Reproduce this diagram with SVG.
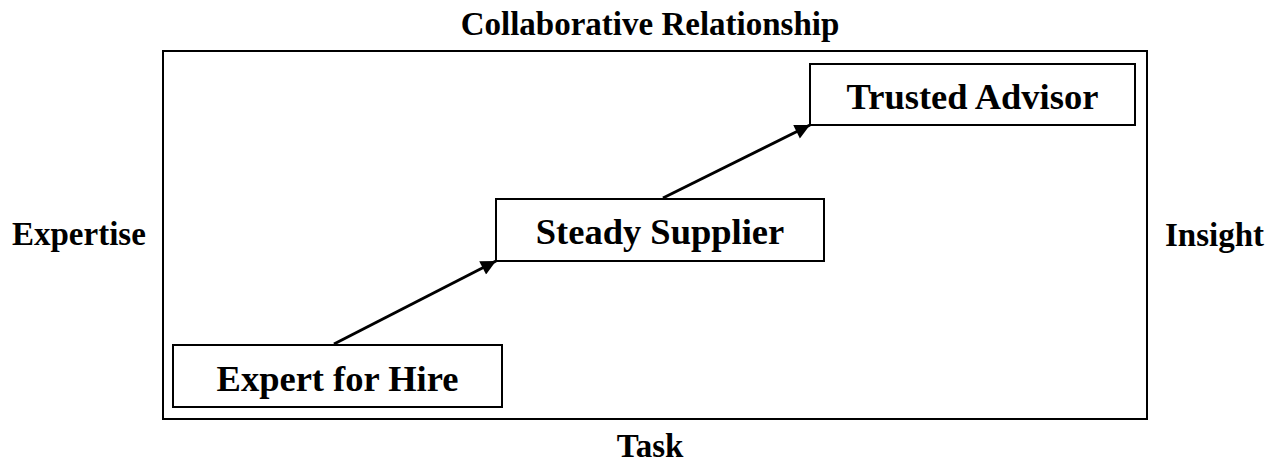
<svg xmlns="http://www.w3.org/2000/svg" width="1281" height="464" viewBox="0 0 1281 464">
  <style>
    .frame { fill: none; stroke: #000; stroke-width: 2; }
    .box { fill: #fff; stroke: #000; stroke-width: 2; }
    .axis { font-family: "Liberation Serif", "Times New Roman", serif; font-weight: bold; font-size: 33px; fill: #000; }
    .label { font-family: "Liberation Serif", "Times New Roman", serif; font-weight: bold; font-size: 36.5px; fill: #000; text-anchor: middle; }
    .conn { fill: none; stroke: #000; stroke-width: 3; marker-end: url(#arrow); }
  </style>
  <defs>
    <marker id="arrow" viewBox="0 0 10 10" refX="10" refY="5" markerWidth="5.5" markerHeight="5" markerUnits="strokeWidth" orient="auto">
      <path d="M0,0 L10,5 L0,10 Z" fill="#000"/>
    </marker>
  </defs>
  <rect width="1281" height="464" fill="#fff"/>

  <!-- axis labels -->
  <text class="axis" x="650" y="35" text-anchor="middle">Collaborative Relationship</text>
  <text class="axis" x="650" y="457" text-anchor="middle">Task</text>
  <text class="axis" x="12" y="245">Expertise</text>
  <text class="axis" x="1165" y="246">Insight</text>

  <!-- outer frame -->
  <rect class="frame" x="163" y="51" width="984" height="368"/>

  <!-- connectors -->
  <g id="connectors">
    <line class="conn" x1="334" y1="344" x2="496" y2="261"/>
    <line class="conn" x1="663" y1="198" x2="810" y2="125"/>
  </g>

  <g id="expert-for-hire">
    <rect class="box" x="173" y="345" width="329" height="62"/>
    <text class="label" x="337.5" y="391">Expert for Hire</text>
  </g>
  <g id="steady-supplier">
    <rect class="box" x="496" y="199" width="328" height="62"/>
    <text class="label" x="660" y="244">Steady Supplier</text>
  </g>
  <g id="trusted-advisor">
    <rect class="box" x="810" y="64" width="325" height="61"/>
    <text class="label" x="972.5" y="109">Trusted Advisor</text>
  </g>
</svg>
